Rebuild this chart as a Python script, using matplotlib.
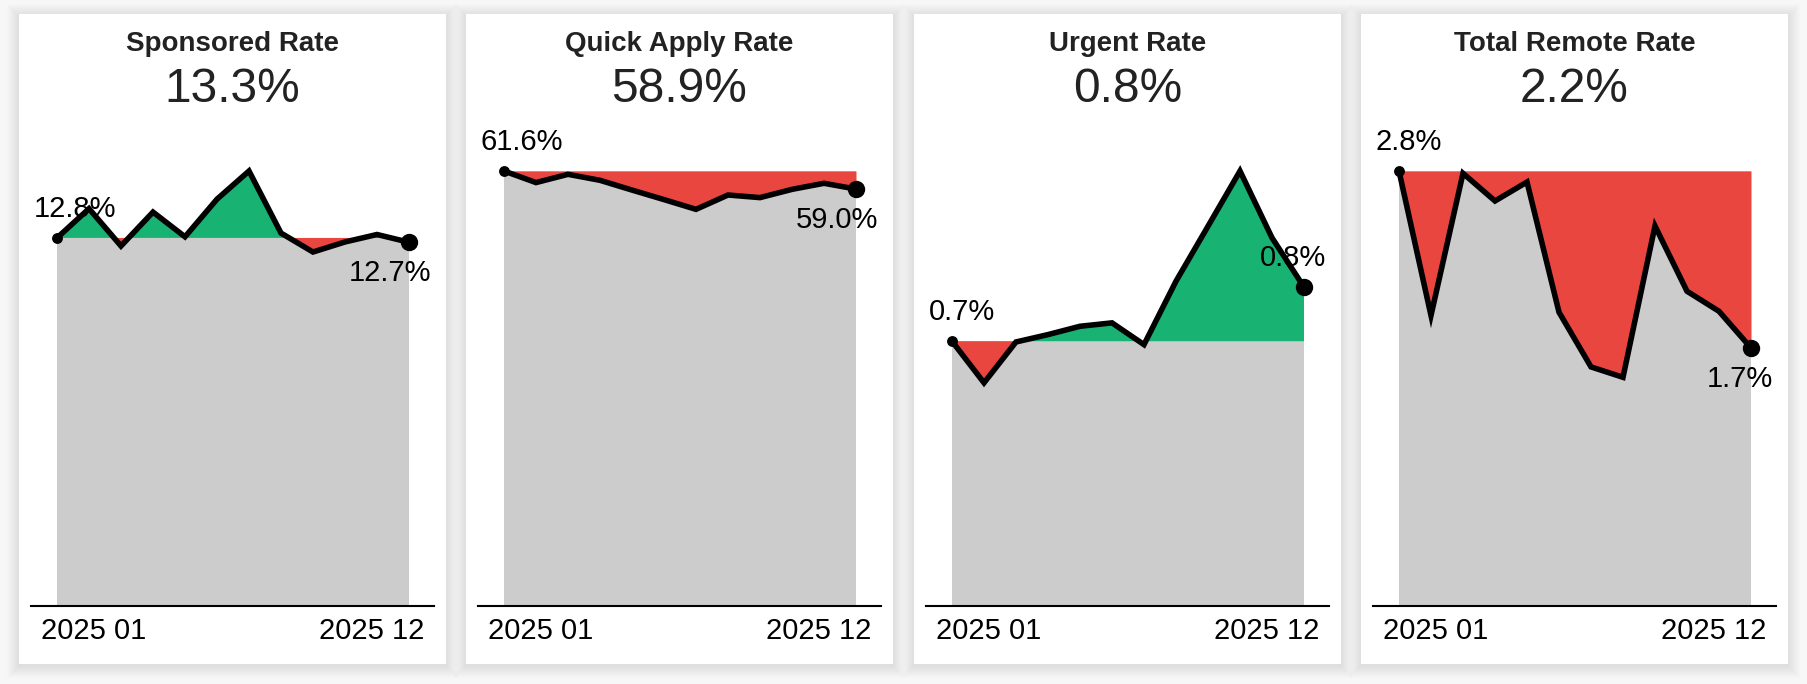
import numpy as np
import matplotlib
matplotlib.use("Agg")
import matplotlib.pyplot as plt
from matplotlib.patches import Rectangle

plt.rcParams['font.family'] = ['Liberation Sans', 'DejaVu Sans']

# data
months = ['2025 01', '2025 02', '2025 03', '2025 04', '2025 05', '2025 06',
          '2025 07', '2025 08', '2025 09', '2025 10', '2025 11', '2025 12']
titles = ['Sponsored Rate', 'Quick Apply Rate', 'Urgent Rate', 'Total Remote Rate']
totals = ['13.3%', '58.9%', '0.8%', '2.2%']

sponsored = [12.81, 13.83, 12.53, 13.71, 12.85, 14.16, 15.14, 12.98, 12.32, 12.67, 12.93, 12.66]
quick_apply = [61.6, 59.96, 61.13, 60.28, 58.9, 57.55, 56.17, 58.2, 57.83, 59.0, 59.86, 59.04]
urgent = [0.70, 0.59, 0.698, 0.7175, 0.7395, 0.7485, 0.691, 0.8587, 1.004, 1.15, 0.9735, 0.843]
remote = [2.8, 1.87, 2.785, 2.607, 2.729, 1.891, 1.539, 1.472, 2.446, 2.026, 1.897, 1.661]

series = [sponsored, quick_apply, urgent, remote]

GREEN = '#18b273'
RED = '#e8463f'
GRAY = '#cccccc'

W, H = 1808, 684
fig = plt.figure(figsize=(W / 100, H / 100), dpi=100)
fig.patch.set_facecolor('#f7f7f7')


def fx(px):
    return px / W


def fy(py):
    return 1 - py / H


card_left = [19, 466, 914, 1361]
card_w = 427
card_top, card_bot = 14, 664

for i in range(len(titles)):
    cl = card_left[i]
    # soft shadow
    for k in range(1, 13):
        fig.add_artist(Rectangle((fx(cl - k), fy(card_bot + 2 + k)),
                                 (card_w + 2 * k) / W, (card_bot - card_top + 2 * k) / H,
                                 transform=fig.transFigure, facecolor='black',
                                 edgecolor='none', alpha=0.009, zorder=0))
    fig.add_artist(Rectangle((fx(cl), fy(card_bot)), card_w / W, (card_bot - card_top) / H,
                             transform=fig.transFigure, facecolor='white',
                             edgecolor='none', zorder=0.5))

    cx = cl + card_w / 2
    fig.text(fx(cx), fy(51), titles[i], ha='center', va='baseline',
             fontsize=20, fontweight='bold', color='#222222')
    fig.text(fx(cx), fy(102), totals[i], ha='center', va='baseline',
             fontsize=34.5, color='#222222')

    ax = fig.add_axes([fx(cl + 12), fy(606), 403 / W, (606 - 171) / H])
    ax.set_zorder(2)
    ax.patch.set_alpha(0)
    v = np.array(series[i])
    x = np.arange(len(v))
    base = v[0]
    top = v.max()

    # gray below the first value, green above it, red where it falls below
    ax.fill_between(x, 0, base, color=GRAY, lw=0)
    ax.fill_between(x, base, v, where=v >= base, interpolate=True, color=GREEN, lw=0)
    ax.fill_between(x, base, v, where=v <= base, interpolate=True, color=RED, lw=0)
    ax.plot(x, v, color='black', lw=4.0, solid_joinstyle='miter', zorder=3, clip_on=False)
    ax.plot(x[0], v[0], 'o', color='black', ms=6.8, zorder=4, clip_on=False)
    ax.plot(x[-1], v[-1], 'o', color='black', ms=11.5, zorder=4, clip_on=False)

    ax.annotate(f"{v[0]:.1f}%", (x[0], v[0]), xytext=(-23, 21), textcoords='offset pixels',
                ha='left', va='baseline', fontsize=21, zorder=2.5)
    if v[-1] < v[0]:
        off = (22, -39)
    else:
        off = (22, 21)
    ax.annotate(f"{v[-1]:.1f}%", (x[-1], v[-1]), xytext=off, textcoords='offset pixels',
                ha='right', va='baseline', fontsize=21, zorder=2.5)

    ax.set_xlim(-26 / 32, 11 + 25 / 32)
    ax.set_ylim(0, top)
    for s in ['top', 'left', 'right']:
        ax.spines[s].set_visible(False)
    ax.spines['bottom'].set_linewidth(1.5)
    ax.set_xticks([])
    ax.set_yticks([])

    fig.text(fx(cl + 22), fy(639), months[0], ha='left', va='baseline', fontsize=21)
    fig.text(fx(cl + 405), fy(639), months[-1], ha='right', va='baseline', fontsize=21)

fig.savefig('out.png', dpi=100, facecolor=fig.get_facecolor())
